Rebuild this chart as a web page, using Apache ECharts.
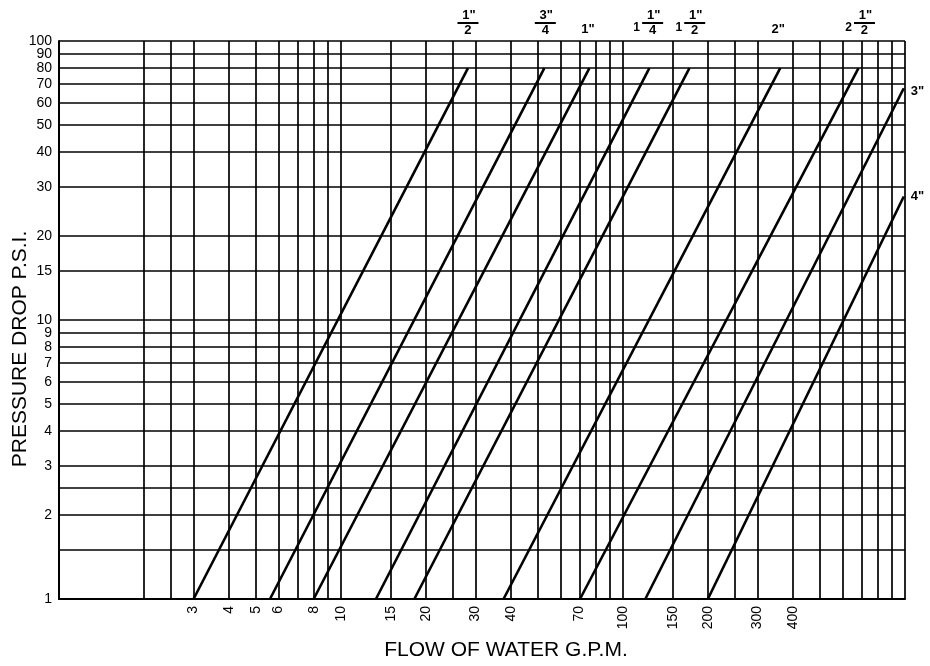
<!DOCTYPE html>
<html>
<head>
<meta charset="utf-8">
<script src="https://cdn.jsdelivr.net/npm/echarts@6/dist/echarts.min.js"></script>
<style>
html,body{margin:0;padding:0;background:#fff;}
#chart{width:930px;height:666px;}
</style>
</head>
<body>
<div id="chart"></div>
<script>
// ---- data ----
const pipeSizes = ['1/2"', '3/4"', '1"', '1-1/4"', '1-1/2"', '2"', '2-1/2"', '3"', '4"'];
const flowAtLowEnd = [3.0, 5.6, 8.0, 13.3, 18.2, 37.7, 70.4, 120, 200];
const pressureAtLowEnd = [1, 1, 1, 1, 1, 1, 1, 1, 1];
const flowAtHighEnd = [28.2, 52.6, 76, 124, 172, 361, 684, 990, 990];
const pressureAtHighEnd = [80, 80, 80, 80, 80, 80, 80, 67.7, 27.7];

const xGridValues = [1, 2, 2.5, 3, 4, 5, 6, 7, 8, 9, 10, 15, 20, 25, 30, 40, 50, 60, 70, 80, 90, 100, 150, 200, 250, 300, 400, 500, 600, 700, 800, 900, 1000];
const xTickLabels = [3, 4, 5, 6, 8, 10, 15, 20, 30, 40, 70, 100, 150, 200, 300, 400];
const yGridValues = [1, 1.5, 2, 2.5, 3, 4, 5, 6, 7, 8, 9, 10, 15, 20, 30, 40, 50, 60, 70, 80, 90, 100];
const yTickLabels = [1, 2, 3, 4, 5, 6, 7, 8, 9, 10, 15, 20, 30, 40, 50, 60, 70, 80, 90, 100];

// label texts for each pipe size: whole part, numerator, denominator (or plain text)
const labelWhole = ['', '', '', '1', '1', '', '2', '', ''];
const labelNum = ['1"', '3"', '', '1"', '1"', '', '1"', '', ''];
const labelDen = ['2', '4', '', '4', '2', '', '2', '', ''];
const labelPlain = ['', '', '1"', '', '', '2"', '', '3"', '4"'];

const xTitle = 'FLOW OF WATER G.P.M.';
const yTitle = 'PRESSURE DROP P.S.I.';

// ---- layout (styles/positions) ----
const FONT = '"Liberation Sans", Arial, Helvetica, sans-serif';
const labelDx = [0, 1, -1.5, 3.3, 5.3, -2, 6, 0, 0];

const chart = echarts.init(document.getElementById('chart'), null, {renderer: 'canvas'});

const series = pipeSizes.map((name, i) => ({
  name: name,
  type: 'line',
  data: [[flowAtLowEnd[i], pressureAtLowEnd[i]], [flowAtHighEnd[i], pressureAtHighEnd[i]]],
  symbol: 'none',
  silent: true,
  lineStyle: {color: '#000', width: 2.6},
  z: 5
}));

const gridLine = {show: true, lineStyle: {color: '#000', width: 1.7}};
const yMax = Math.max.apply(null, yTickLabels);
const yLabelStyle = {
  margin: 7, showMinLabel: true, showMaxLabel: true, hideOverlap: false,
  color: '#000', fontSize: 14, fontFamily: FONT,
  formatter: v => String(Math.round(v))
};

chart.setOption({
  animation: false,
  backgroundColor: '#fff',
  grid: {left: 59, right: 25, top: 41, bottom: 67, containLabel: false},
  xAxis: {
    type: 'log', logBase: 10, min: 1, max: 1000,
    axisLine: {show: true, onZero: false, lineStyle: {color: '#000', width: 2}},
    axisTick: {show: false, customValues: xGridValues},
    splitLine: gridLine,
    minorSplitLine: {show: false},
    axisLabel: {
      customValues: xTickLabels, rotate: 90, margin: 7,
      showMinLabel: true, showMaxLabel: true, hideOverlap: false,
      color: '#000', fontSize: 14, fontFamily: FONT,
      formatter: v => String(Math.round(v))
    }
  },
  yAxis: [{
    type: 'log', logBase: 10, min: 1, max: 100, position: 'left',
    axisLine: {show: true, onZero: false, lineStyle: {color: '#000', width: 2}},
    axisTick: {show: false, customValues: yGridValues},
    splitLine: gridLine,
    minorSplitLine: {show: false},
    axisLabel: Object.assign({customValues: yTickLabels.filter(v => v < yMax)}, yLabelStyle)
  }, {
    type: 'log', logBase: 10, min: 1, max: 100, position: 'left',
    axisLine: {show: false},
    axisTick: {show: false},
    splitLine: {show: false},
    minorSplitLine: {show: false},
    axisLabel: Object.assign({customValues: yTickLabels.filter(v => v === yMax)}, yLabelStyle)
  }],
  series: series
});

// ---- size labels positioned from the data ends ----
const graphics = [];
const boldFont = 'bold 13px ' + FONT;
pipeSizes.forEach((name, i) => {
  const p = chart.convertToPixel({gridIndex: 0}, [flowAtHighEnd[i], pressureAtHighEnd[i]]);
  const cx = p[0] + labelDx[i];
  if (labelPlain[i]) {
    if (i >= 7) {
      graphics.push({type: 'text', x: p[0] + 7, y: p[1] + (i === 7 ? 3 : 0),
        style: {text: labelPlain[i], font: boldFont, fill: '#000', textAlign: 'left', textVerticalAlign: 'middle'}});
    } else {
      graphics.push({type: 'text', x: cx, y: 29,
        style: {text: labelPlain[i], font: boldFont, fill: '#000', textAlign: 'center', textVerticalAlign: 'middle'}});
    }
  } else {
    graphics.push({type: 'text', x: cx + 1, y: 15,
      style: {text: labelNum[i], font: boldFont, fill: '#000', textAlign: 'center', textVerticalAlign: 'middle'}});
    graphics.push({type: 'rect', shape: {x: cx - 10.5, y: 22, width: 21, height: 2}, style: {fill: '#000'}});
    graphics.push({type: 'text', x: cx, y: 30,
      style: {text: labelDen[i], font: boldFont, fill: '#000', textAlign: 'center', textVerticalAlign: 'middle'}});
    if (labelWhole[i]) {
      graphics.push({type: 'text', x: cx - 16, y: 28,
        style: {text: labelWhole[i], font: 'bold 12px ' + FONT, fill: '#000', textAlign: 'center', textVerticalAlign: 'middle'}});
    }
  }
});
graphics.push({type: 'text', x: 506, y: 650,
  style: {text: xTitle, font: '21px ' + FONT, fill: '#000', textAlign: 'center', textVerticalAlign: 'middle'}});
graphics.push({type: 'text', x: 20, y: 349, rotation: Math.PI / 2,
  style: {text: yTitle, font: '21px ' + FONT, fill: '#000', textAlign: 'center', textVerticalAlign: 'middle'}});

chart.setOption({graphic: graphics});
</script>
</body>
</html>
